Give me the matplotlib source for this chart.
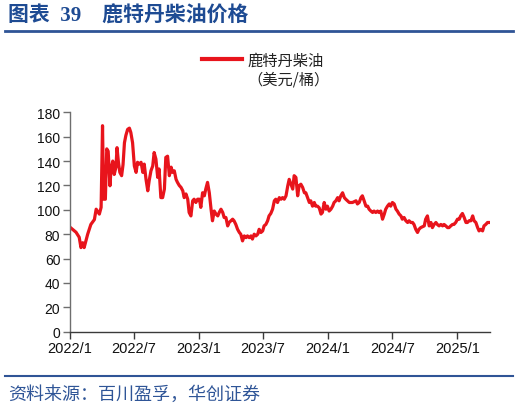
import matplotlib
matplotlib.use("Agg")
import matplotlib.pyplot as plt
from matplotlib.lines import Line2D
import pandas as pd

plt.rcParams['font.family'] = ['Liberation Sans', 'Noto Sans CJK SC', 'DejaVu Sans']

# Days since 2022-01-01 and Rotterdam diesel price (USD/bbl)
day_offsets = [
    3, 17, 26, 31, 36, 40, 45, 50, 59, 69, 74, 83, 88, 92, 95, 100, 104, 108, 113, 116,
    121, 125, 130, 133, 137, 141, 146, 150, 154, 158, 163, 168, 172, 177, 182, 187, 191, 196, 201, 206,
    210, 215, 220, 224, 229, 234, 238, 243, 248, 252, 257, 262, 267, 271, 276, 281, 286, 290, 295, 300,
    304, 309, 314, 319, 323, 328, 333, 337, 342, 347, 351, 356, 361, 366, 370, 375, 380, 384, 389, 394,
    399, 403, 408, 413, 418, 422, 427, 432, 436, 441, 446, 450, 455, 460, 464, 469, 474, 479, 483, 488,
    493, 498, 502, 507, 512, 516, 521, 526, 531, 535, 540, 545, 549, 554, 559, 563, 568, 573, 578, 582,
    587, 592, 597, 601, 606, 611, 616, 620, 625, 630, 634, 639, 644, 648, 653, 658, 663, 667, 672, 677,
    681, 686, 691, 695, 700, 705, 710, 714, 719, 724, 728, 733, 738, 743, 747, 752, 757, 761, 766, 771,
    776, 780, 790, 799, 809, 813, 818, 823, 827, 832, 837, 842, 846, 851, 856, 860, 865, 870, 874, 879,
    884, 889, 893, 898, 903, 907, 912, 917, 922, 926, 931, 936, 940, 945, 950, 955, 959, 964, 969, 973,
    978, 983, 987, 992, 1002, 1006, 1011, 1016, 1021, 1025, 1030, 1035, 1039, 1044, 1049, 1054, 1058, 1063, 1068, 1072,
    1077, 1082, 1086, 1091, 1096, 1101, 1105, 1110, 1115, 1120, 1124, 1129, 1134, 1139, 1143, 1148, 1153, 1157, 1162, 1167,
    1171, 1176, 1181, 1185,
]
prices = [
    85, 81.6, 77.5, 69, 73, 69, 74.5, 80, 88, 92, 100.5, 96.5, 102, 169, 108.7, 108.7, 150, 148, 119.7, 133,
    140, 129, 135, 151, 139, 130.7, 128, 137, 155, 161, 166, 167, 163.5, 155, 136, 130.7, 139, 137.5, 139, 130.7,
    137.5, 125, 115.6, 124, 132, 136, 147, 141.6, 126.6, 133.5, 110, 110, 117, 143, 144, 128, 135, 130.7, 132, 125,
    122.5, 120, 118.4, 115.6, 110, 113, 108.7, 97.8, 95, 107.4, 108.7, 106, 108.7, 108.7, 102, 114, 111.5, 117, 122.5, 114,
    100.5, 91, 99, 96.5, 95, 97.8, 100.5, 97.8, 93.7, 93.7, 86.8, 89.6, 91, 92.3, 91, 88, 84, 81.4, 80, 74.5,
    78.6, 77.2, 78.6, 77.2, 78.6, 76, 80, 78.6, 80, 84, 81.4, 82.7, 86.8, 88, 91, 95, 97, 100.5, 107.4, 108.7,
    106, 110, 108.7, 110, 108.7, 111.5, 119.7, 125, 121, 117, 128, 126.6, 111.5, 119.7, 121, 118.4, 114, 114, 110, 106,
    107.4, 103, 106, 103, 103, 101.6, 96.5, 97.8, 106, 100.5, 103, 99, 100.5, 103, 106, 107.4, 110, 107.4, 111.5, 114,
    110, 108.7, 106, 106, 107.4, 104.8, 106, 110, 111.5, 107.4, 103, 103, 100.5, 99, 97.8, 99, 97.8, 99, 97.8, 99,
    92.3, 96.5, 100.5, 103, 104.8, 103, 106, 104.8, 100.5, 99, 96.5, 95, 92.3, 93.7, 91, 89.6, 91, 89.6, 89.6, 88,
    84, 81.4, 84, 85.4, 86.8, 92.3, 95, 86.8, 89.6, 85.4, 88, 89.6, 88, 86.8, 88, 86.8, 88, 86.8, 85.4, 85.4,
    86.8, 88, 88, 89.6, 92.3, 92.3, 95, 97, 93.7, 89.6, 89.6, 91, 91, 95, 91, 89.6, 85.4, 82.7, 84, 82.7,
    86.8, 88, 89.6, 89.6,
]
tick_dates = ['2022-01-01', '2022-07-01', '2023-01-01', '2023-07-01', '2024-01-01', '2024-07-01', '2025-01-01']
tick_labels = ['2022/1', '2022/7', '2023/1', '2023/7', '2024/1', '2024/7', '2025/1']
y_ticks = [0, 20, 40, 60, 80, 100, 120, 140, 160, 180]

dates = pd.Timestamp('2022-01-01') + pd.to_timedelta(day_offsets, unit='D')

W, H = 520, 410
fig = plt.figure(figsize=(W / 100, H / 100), dpi=100)
ax = fig.add_axes([70 / W, 1 - 332.7 / H, 420 / W, 219.4 / H])

red = '#E8141C'
blue = '#1E4B93'

ax.plot(dates, prices, color=red, lw=2.3, solid_joinstyle='round')

ax.set_ylim(0, 180)
ax.set_yticks(y_ticks)
ax.set_xlim(pd.Timestamp('2022-01-01'), pd.Timestamp('2025-04-03'))
ax.set_xticks(pd.to_datetime(tick_dates))
ax.set_xticklabels(tick_labels)

for s in ['top', 'right']:
    ax.spines[s].set_visible(False)
ax.spines['left'].set_color('#6e6e6e')
ax.spines['bottom'].set_color('#3a3a3a')
ax.spines['left'].set_linewidth(1.0)
ax.spines['bottom'].set_linewidth(1.0)
ax.tick_params(axis='y', direction='out', length=5, width=1, color='#6e6e6e', labelsize=10, pad=2, labelcolor='#111111')
ax.tick_params(axis='x', direction='out', length=5, width=1, color='#3a3a3a', labelsize=10.5, pad=2, labelcolor='#111111')

# Title
fig.text(8 / W, 1 - 17 / H, '图表  39    鹿特丹柴油价格', fontsize=15, fontweight='bold', color=blue,
         family=['Liberation Serif', 'Noto Sans CJK SC'], va='center', ha='left')
fig.add_artist(Line2D([5 / W, 513 / W], [1 - 32 / H, 1 - 32 / H], color='#2F5496', lw=2.0))

# Legend
handle = Line2D([], [], color=red, lw=3)
leg = fig.legend([handle], ['鹿特丹柴油'], loc='center left', bbox_to_anchor=(202 / W, 1 - 61 / H),
                 frameon=False, borderpad=0, borderaxespad=0, handlelength=2.6, handletextpad=0.4,
                 prop={'family': ['Noto Sans CJK SC'], 'size': 11})
for t in leg.get_texts():
    t.set_color('#222222')
fig.text(247 / W, 1 - 80 / H, '（美元/桶）', fontsize=11, family=['Noto Sans CJK SC'], color='#222222',
         va='center', ha='left')

# Footer
fig.add_artist(Line2D([5 / W, 513 / W], [1 - 377 / H, 1 - 377 / H], color='#2F5496', lw=1.5))
fig.text(8 / W, 1 - 395 / H, '资料来源：百川盈孚，华创证券', fontsize=13, family=['Noto Sans CJK SC'],
         color='#2F5597', style='italic', va='center', ha='left')

fig.savefig('out.png', dpi=100)
